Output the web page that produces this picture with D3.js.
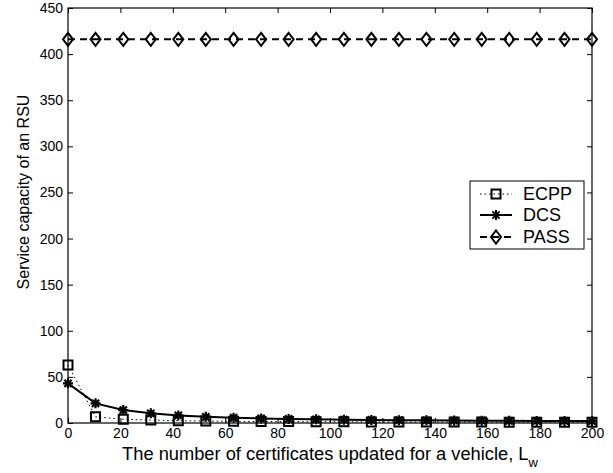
<!DOCTYPE html>
<html>
<head>
<meta charset="utf-8">
<script src="https://cdn.jsdelivr.net/npm/d3@7"></script>
<style>
  body { margin: 0; background: #fff; }
  svg { display: block; font-family: "Liberation Sans", Arial, sans-serif; }
</style>
</head>
<body>
<svg width="613" height="473"></svg>
<script>
  // data
  const lw = [0, 10.5, 21.1, 31.6, 42.1, 52.6, 63.2, 73.7, 84.2, 94.7,
              105.3, 115.8, 126.3, 136.8, 147.4, 157.9, 168.4, 178.9, 189.5, 200];
  const ecpp = [63, 6.8, 4, 3.2, 2.5, 2.1, 1.8, 1.6, 1.5, 1.4,
                1.3, 1.2, 1.1, 1.1, 1, 1, 0.9, 0.9, 0.9, 0.8];
  const dcs = [43, 21.3, 14, 10.5, 8.2, 6.7, 5.7, 5, 4.4, 4,
               3.6, 3.3, 3.1, 2.9, 2.7, 2.5, 2.4, 2.3, 2.2, 2.1];
  const pass = [416, 416, 416, 416, 416, 416, 416, 416, 416, 416,
                416, 416, 416, 416, 416, 416, 416, 416, 416, 416];
  const xTicks = [0, 20, 40, 60, 80, 100, 120, 140, 160, 180, 200];
  const yTicks = [0, 50, 100, 150, 200, 250, 300, 350, 400, 450];
  const names = ["ECPP", "DCS", "PASS"];

  const svg = d3.select("svg");
  const mLeft = 68, mRight = 592, mTop = 8, mBottom = 423;

  const x = d3.scaleLinear().domain([0, 200]).range([mLeft, mRight]);
  const y = d3.scaleLinear().domain([0, 450]).range([mBottom, mTop]);

  // axes with inward ticks (matlab style)
  svg.append("g")
      .attr("transform", `translate(0,${mBottom})`)
      .call(d3.axisBottom(x).tickValues(xTicks).tickSizeInner(-5).tickSizeOuter(0).tickPadding(5))
      .call(g => g.selectAll("text").attr("font-size", 14).attr("fill", "#000"));
  svg.append("g")
      .attr("transform", `translate(0,${mTop})`)
      .call(d3.axisTop(x).tickValues(xTicks).tickSizeInner(-5).tickSizeOuter(0).tickFormat(""));
  svg.append("g")
      .attr("transform", `translate(${mLeft},0)`)
      .call(d3.axisLeft(y).tickValues(yTicks).tickSizeInner(-5).tickSizeOuter(0).tickPadding(5))
      .call(g => g.selectAll("text").attr("font-size", 14).attr("fill", "#000"));
  svg.append("g")
      .attr("transform", `translate(${mRight},0)`)
      .call(d3.axisRight(y).tickValues(yTicks).tickSizeInner(-5).tickSizeOuter(0).tickFormat(""));
  svg.selectAll(".domain").remove();
  svg.selectAll("g").attr("font-family", null);
  svg.selectAll(".tick line").attr("stroke", "#000").attr("stroke-width", 1);

  svg.append("rect")
      .attr("x", mLeft).attr("y", mTop)
      .attr("width", mRight - mLeft).attr("height", mBottom - mTop)
      .attr("fill", "none").attr("stroke", "#000").attr("stroke-width", 1.2);

  // series
  const series = [
    { name: names[0], vals: ecpp, dash: "1.5,3", width: 1, marker: "square" },
    { name: names[1], vals: dcs, dash: null, width: 2, marker: "star" },
    { name: names[2], vals: pass, dash: "7,5", width: 2, marker: "diamond" }
  ];

  const line = d3.line().x(d => x(d[0])).y(d => y(d[1]));

  function markerPath(type) {
    if (type === "square") return "M-4.5,-4.5H4.5V4.5H-4.5Z";
    if (type === "diamond") return "M0,-6.5L5,0L0,6.5L-5,0Z";
    return "M0,-5V5M-5,0H5M-3.6,-3.6L3.6,3.6M-3.6,3.6L3.6,-3.6";
  }

  const plot = svg.append("g");
  series.forEach(s => {
    const pts = lw.map((v, i) => [v, s.vals[i]]);
    plot.append("path")
        .attr("d", line(pts))
        .attr("fill", "none")
        .attr("stroke", "#000")
        .attr("stroke-width", s.width)
        .attr("stroke-dasharray", s.dash);
    plot.selectAll(null)
        .data(pts)
        .join("path")
        .attr("transform", d => `translate(${x(d[0])},${y(d[1])})`)
        .attr("d", markerPath(s.marker))
        .attr("fill", "none")
        .attr("stroke", "#000")
        .attr("stroke-width", s.marker === "star" ? 2.2 : 2);
  });

  // legend
  const lg = svg.append("g");
  lg.append("rect")
      .attr("x", 470).attr("y", 181).attr("width", 114).attr("height", 68)
      .attr("fill", "#fff").attr("stroke", "#000").attr("stroke-width", 1);
  const rowY = [194, 215, 237];
  series.forEach((s, i) => {
    lg.append("line")
        .attr("x1", 480).attr("x2", 512).attr("y1", rowY[i]).attr("y2", rowY[i])
        .attr("stroke", "#000").attr("stroke-width", s.width)
        .attr("stroke-dasharray", s.dash);
    lg.append("path")
        .attr("transform", `translate(496,${rowY[i]})`)
        .attr("d", markerPath(s.marker))
        .attr("fill", "none").attr("stroke", "#000")
        .attr("stroke-width", 2);
    lg.append("text")
        .attr("x", 523).attr("y", rowY[i]).attr("dy", "0.36em")
        .attr("font-size", 18)
        .text(s.name);
  });

  // axis labels
  const xl = svg.append("text")
      .attr("x", (mLeft + mRight) / 2).attr("y", 460)
      .attr("text-anchor", "middle")
      .attr("font-size", 18.3);
  xl.append("tspan").text("The number of certificates updated for a vehicle, L");
  xl.append("tspan").attr("dy", 7).attr("font-size", 13).text("w");

  svg.append("text")
      .attr("transform", "translate(29,192) rotate(-90)")
      .attr("text-anchor", "middle")
      .attr("font-size", 16)
      .text("Service capacity of an RSU");
</script>
</body>
</html>
